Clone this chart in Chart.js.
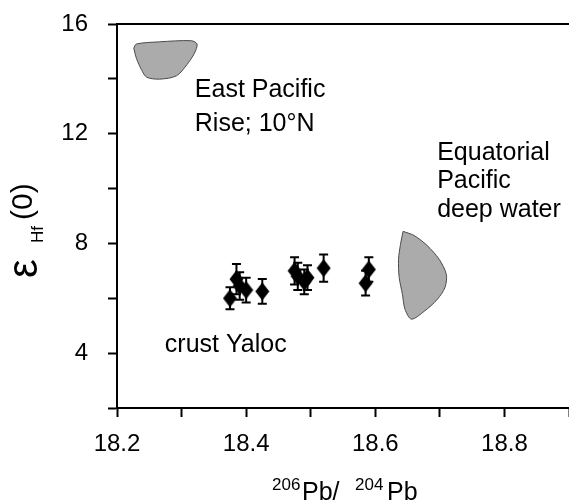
<!DOCTYPE html>
<html>
<head>
<meta charset="utf-8">
<script src="https://cdn.jsdelivr.net/npm/chart.js@4.4.1/dist/chart.umd.min.js"></script>
<style>
html, body { margin: 0; padding: 0; background: #fff; }
canvas { display: block; }
</style>
</head>
<body>
<canvas id="chart" width="569" height="502"></canvas>
<script>
const xTickLabels = ['18.2', '18.4', '18.6', '18.8'];
const yTickLabels = ['4', '8', '12', '16'];

// crust Yaloc samples
const pbRatio = [18.375, 18.385, 18.39, 18.40, 18.425, 18.475, 18.48, 18.49, 18.495, 18.52, 18.585, 18.59];
const epsHf = [6.0, 6.7, 6.45, 6.3, 6.25, 7.0, 6.8, 6.6, 6.75, 7.1, 6.55, 7.05];
const epsErr = [0.4, 0.55, 0.5, 0.45, 0.45, 0.5, 0.5, 0.45, 0.45, 0.5, 0.45, 0.45];

// East Pacific Rise field outline
const eprX = [18.226, 18.230, 18.266, 18.315, 18.324, 18.320, 18.308, 18.292, 18.266, 18.246, 18.238, 18.230, 18.226];
const eprY = [15.12, 15.27, 15.35, 15.39, 15.27, 14.94, 14.51, 14.11, 13.99, 14.06, 14.33, 14.75, 15.12];

// Equatorial Pacific deep water field outline
const eqpX = [18.643, 18.660, 18.680, 18.699, 18.710, 18.708, 18.696, 18.676, 18.656, 18.646, 18.642, 18.637, 18.636, 18.639, 18.643];
const eqpY = [8.44, 8.29, 7.93, 7.42, 6.87, 6.40, 5.96, 5.53, 5.24, 5.60, 6.15, 6.76, 7.42, 7.96, 8.44];

const FONT = "'Liberation Sans', Arial, Helvetica, sans-serif";
Chart.defaults.font.family = FONT;
Chart.defaults.color = '#000';

function zip(xs, ys) {
    return xs.map((x, i) => ({ x, y: ys[i] }));
}

function diamondStyle() {
    const c = document.createElement('canvas');
    c.width = 15;
    c.height = 19;
    const g = c.getContext('2d');
    g.fillStyle = '#000';
    g.beginPath();
    g.moveTo(7.5, 0.5);
    g.lineTo(14.5, 9.5);
    g.lineTo(7.5, 18.5);
    g.lineTo(0.5, 9.5);
    g.closePath();
    g.fill();
    return c;
}

const errorBars = {
    id: 'errorBars',
    beforeDatasetsDraw(chart) {
        const { ctx, scales: { x, y } } = chart;
        ctx.save();
        ctx.strokeStyle = '#000';
        ctx.lineWidth = 2;
        pbRatio.forEach((v, i) => {
            const px = x.getPixelForValue(v);
            const top = y.getPixelForValue(epsHf[i] + epsErr[i]);
            const bot = y.getPixelForValue(epsHf[i] - epsErr[i]);
            ctx.beginPath();
            ctx.moveTo(px, top);
            ctx.lineTo(px, bot);
            ctx.moveTo(px - 4.5, top);
            ctx.lineTo(px + 4.5, top);
            ctx.moveTo(px - 4.5, bot);
            ctx.lineTo(px + 4.5, bot);
            ctx.stroke();
        });
        ctx.restore();
    },
};

const labels = {
    id: 'labels',
    afterDraw(chart) {
        const { ctx, chartArea, scales: { x, y } } = chart;
        ctx.save();

        // top frame line
        ctx.strokeStyle = '#000';
        ctx.lineWidth = 2;
        ctx.beginPath();
        ctx.moveTo(chartArea.left - 1, chartArea.top);
        ctx.lineTo(chart.width, chartArea.top);
        ctx.stroke();

        ctx.fillStyle = '#000';
        ctx.textBaseline = 'alphabetic';
        ctx.textAlign = 'left';

        const notes = [
            { x: 18.3205, y: 13.345, step: 34, lines: ['East Pacific', 'Rise; 10°N'] },
            { x: 18.6958, y: 11.055, step: 28.5, lines: ['Equatorial', 'Pacific', 'deep water'] },
            { x: 18.2741, y: 4.036, step: 0, lines: ['crust Yaloc'] },
        ];
        ctx.font = `25px ${FONT}`;
        notes.forEach((n) => {
            const px = x.getPixelForValue(n.x);
            const py = y.getPixelForValue(n.y);
            n.lines.forEach((t, i) => ctx.fillText(t, px, py + i * n.step));
        });

        // x axis title: 206Pb/ 204Pb
        const sx = 272;
        ctx.font = `17px ${FONT}`;
        ctx.fillText('206', sx, 490);
        ctx.font = `25px ${FONT}`;
        ctx.fillText('Pb/', sx + 30, 500);
        ctx.font = `17px ${FONT}`;
        ctx.fillText('204', sx + 83, 490);
        ctx.font = `25px ${FONT}`;
        ctx.fillText('Pb', sx + 115, 500);

        // y axis title: εHf(0)
        ctx.translate(37, 278);
        ctx.rotate(-Math.PI / 2);
        ctx.font = `42px ${FONT}`;
        ctx.fillText('ε', 0, 0);
        ctx.font = `17px ${FONT}`;
        ctx.fillText('Hf', 35, 6);
        ctx.font = `30px ${FONT}`;
        ctx.fillText('(0)', 58, -5);
        ctx.restore();
    },
};

const axisGrid = {
    display: true,
    drawOnChartArea: false,
    drawTicks: true,
    tickLength: 9,
    tickWidth: 2,
    tickColor: '#000',
};

new Chart(document.getElementById('chart'), {
    type: 'scatter',
    data: {
        datasets: [
            {
                label: 'crust Yaloc',
                data: zip(pbRatio, epsHf),
                pointStyle: diamondStyle(),
                pointRadius: 8,
                pointHoverRadius: 8,
                order: 0,
            },
            {
                label: 'East Pacific Rise; 10°N',
                data: zip(eprX, eprY),
                showLine: true,
                fill: 'shape',
                tension: 0.3,
                backgroundColor: '#ababab',
                borderColor: '#4a4a4a',
                borderWidth: 1,
                pointRadius: 0,
                order: 1,
            },
            {
                label: 'Equatorial Pacific deep water',
                data: zip(eqpX, eqpY),
                showLine: true,
                fill: 'shape',
                tension: 0.3,
                backgroundColor: '#ababab',
                borderColor: '#4a4a4a',
                borderWidth: 1,
                pointRadius: 0,
                order: 1,
            },
        ],
    },
    options: {
        responsive: false,
        animation: false,
        layout: { autoPadding: false, padding: { top: 24, right: 0, left: 0, bottom: 0 } },
        plugins: {
            legend: { display: false },
            tooltip: { enabled: false },
        },
        scales: {
            x: {
                type: 'linear',
                position: 'bottom',
                min: 18.2,
                max: 18.9,
                grid: axisGrid,
                border: { color: '#000', width: 2 },
                ticks: {
                    stepSize: 0.1,
                    padding: 13,
                    maxRotation: 0,
                    autoSkip: false,
                    font: { size: 24 },
                    callback: (v) => (xTickLabels.includes(v.toFixed(1)) ? v.toFixed(1) : ''),
                },
                afterFit: (s) => {
                    s.height = 94;
                    s.paddingLeft = 0;
                    s.paddingRight = 0;
                },
            },
            y: {
                type: 'linear',
                min: 2,
                max: 16,
                grid: axisGrid,
                border: { color: '#000', width: 2 },
                ticks: {
                    stepSize: 2,
                    padding: 20,
                    autoSkip: false,
                    font: { size: 24 },
                    callback: (v) => (yTickLabels.includes(String(v)) ? String(v) : ''),
                },
                afterFit: (s) => {
                    s.width = 117;
                    s.paddingTop = 0;
                    s.paddingBottom = 0;
                },
            },
        },
    },
    plugins: [errorBars, labels],
});
</script>
</body>
</html>
